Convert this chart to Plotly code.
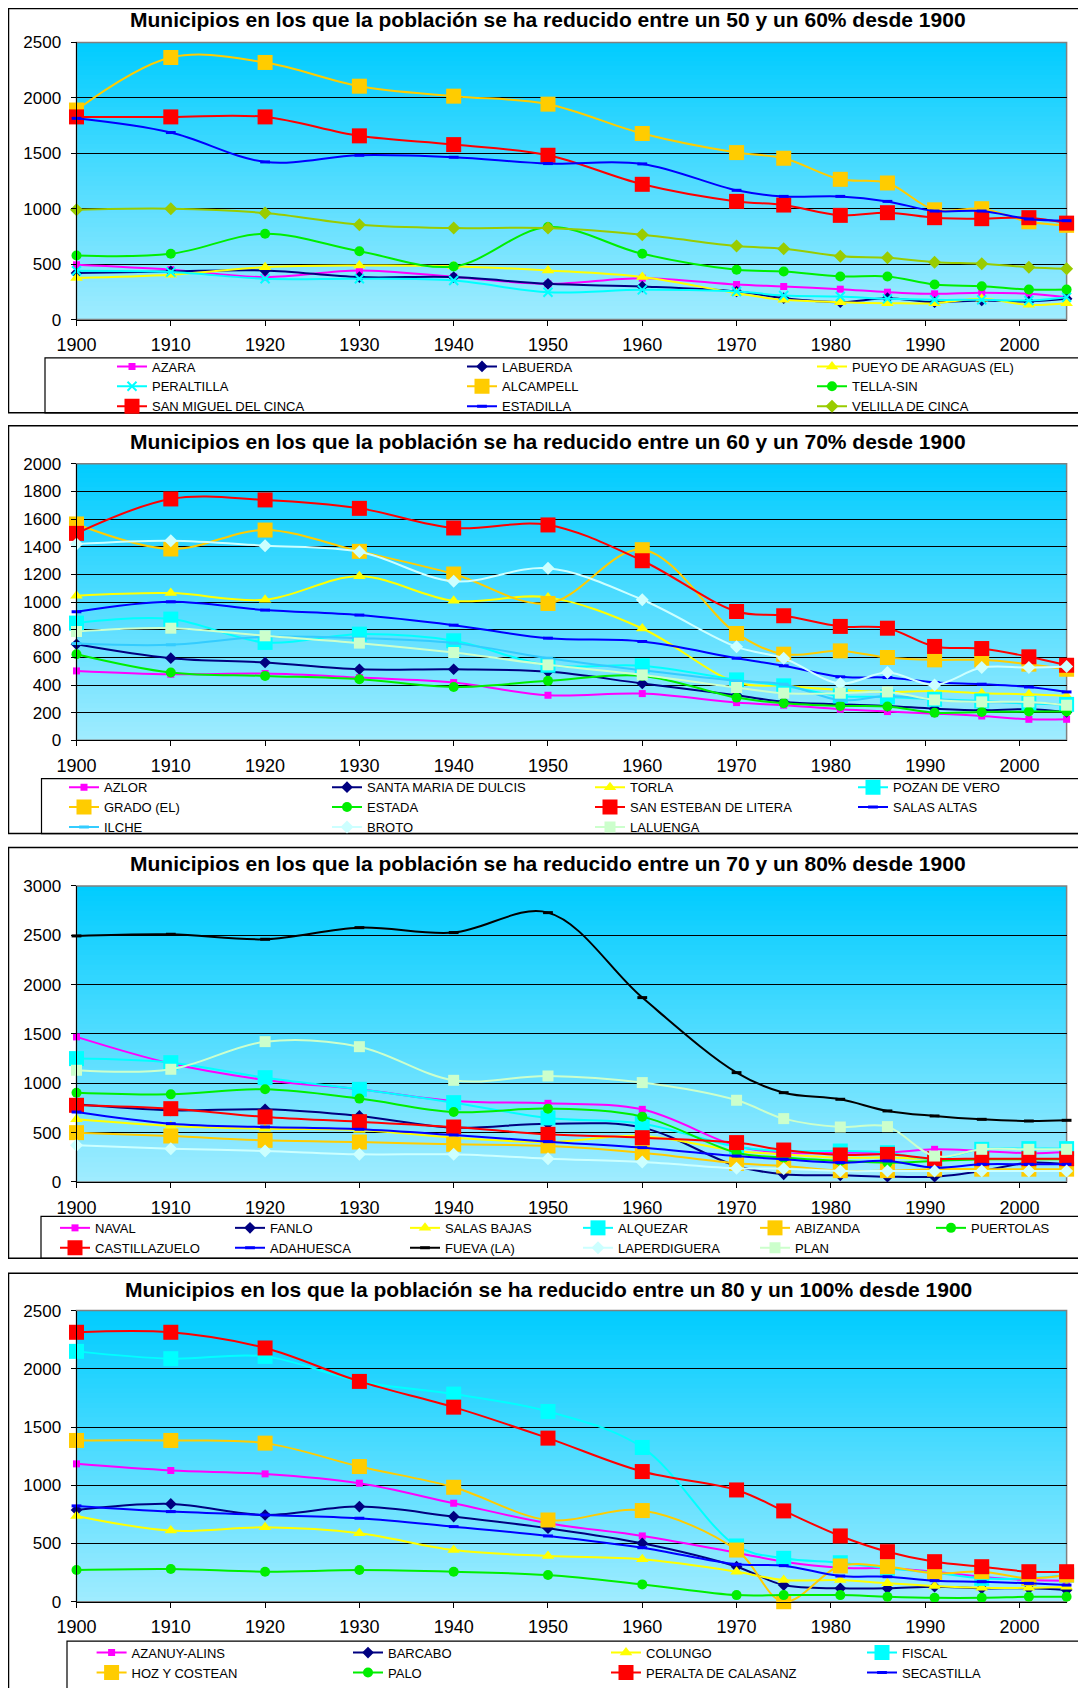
import plotly.graph_objects as go

# ---------------- DATA ----------------
YEARS = [1900, 1910, 1920, 1930, 1940, 1950, 1960, 1970, 1975, 1981, 1986, 1991, 1996, 2001, 2005]
X_TICKS = [1900, 1910, 1920, 1930, 1940, 1950, 1960, 1970, 1980, 1990, 2000]

TITLE_1 = "Municipios en los que la población se ha reducido entre un 50 y un 60% desde 1900"
TITLE_2 = "Municipios en los que la población se ha reducido entre un 60 y un 70% desde 1900"
TITLE_3 = "Municipios en los que la población se ha reducido entre un 70 y un 80% desde 1900"
TITLE_4 = "Municipios en los que la población se ha reducido entre un 80 y un 100% desde 1900"

# Panel 1
AZARA = [494, 450, 383, 443, 385, 322, 373, 316, 298, 274, 247, 232, 241, 232, 202]
LABUERDA = [419, 434, 443, 383, 383, 322, 298, 253, 193, 157, 193, 157, 172, 163, 187]
PUEYO = [376, 404, 473, 488, 482, 443, 383, 238, 178, 157, 148, 148, 187, 133, 148]
PERALTILLA = [440, 428, 368, 368, 352, 247, 268, 253, 217, 208, 187, 178, 178, 172, 202]
ALCAMPELL = [1890, 2364, 2319, 2105, 2015, 1943, 1678, 1506, 1455, 1265, 1232, 990, 1000, 882, 850]
SAN_MIGUEL = [1828, 1828, 1828, 1657, 1578, 1482, 1220, 1066, 1033, 940, 964, 919, 910, 919, 870]
ESTADILLA = [1815, 1687, 1422, 1482, 1464, 1407, 1404, 1166, 1111, 1111, 1066, 979, 979, 907, 892]
TELLA_SIN = [578, 593, 774, 617, 479, 834, 593, 449, 434, 389, 389, 316, 301, 271, 271]
VELILLA = [991, 1000, 961, 855, 825, 825, 765, 663, 639, 572, 557, 518, 503, 473, 458]

# Panel 2
AZLOR = [502, 478, 483, 454, 418, 326, 338, 273, 254, 225, 208, 193, 176, 152, 152]
SANTA_MARIA = [695, 594, 563, 514, 514, 497, 411, 326, 278, 261, 249, 229, 217, 225, 205]
TORLA = [1046, 1065, 1017, 1186, 1009, 1034, 809, 418, 394, 365, 350, 357, 341, 333, 321]
POZAN = [848, 877, 708, 768, 720, 543, 539, 437, 394, 321, 314, 297, 285, 266, 260]
GRADO = [1565, 1384, 1521, 1367, 1203, 990, 1379, 773, 623, 647, 599, 582, 582, 551, 514]
ESTADA = [623, 490, 466, 442, 386, 430, 466, 309, 268, 249, 244, 200, 205, 208, 208]
SAN_ESTEBAN = [1497, 1746, 1739, 1678, 1536, 1558, 1299, 932, 901, 824, 811, 679, 664, 604, 543]
SALAS_ALTAS = [930, 1002, 942, 906, 833, 739, 715, 594, 539, 459, 454, 418, 406, 386, 350]
ILCHE = [700, 691, 749, 739, 703, 594, 507, 430, 406, 290, 321, 297, 278, 273, 256]
BROTO = [1420, 1444, 1408, 1364, 1150, 1244, 1017, 676, 594, 411, 490, 401, 526, 526, 534]
LALUENGA = [787, 811, 756, 703, 635, 546, 473, 382, 341, 341, 350, 292, 278, 278, 254]

# Panel 3
NAVAL = [1470, 1200, 1034, 939, 821, 797, 736, 365, 297, 297, 297, 331, 314, 291, 304]
FANLO = [787, 726, 736, 669, 551, 591, 551, 162, 78, 68, 54, 54, 111, 196, 179]
SALAS_BAJAS = [635, 568, 540, 527, 449, 405, 466, 314, 280, 247, 247, 230, 230, 230, 230]
ALQUEZAR = [1250, 1209, 1057, 939, 804, 649, 591, 358, 314, 314, 297, 230, 331, 338, 338]
ABIZANDA = [500, 466, 422, 405, 382, 365, 297, 189, 162, 115, 115, 130, 130, 130, 130]
PUERTOLAS = [905, 888, 939, 845, 709, 743, 662, 297, 247, 213, 196, 213, 230, 230, 230]
CASTILLAZUELO = [777, 743, 659, 611, 557, 483, 449, 399, 324, 274, 280, 236, 236, 236, 236]
ADAHUESCA = [709, 591, 557, 534, 476, 409, 348, 263, 230, 196, 213, 145, 179, 179, 179]
FUEVA = [2493, 2510, 2459, 2577, 2527, 2729, 1868, 1108, 905, 838, 720, 669, 635, 618, 625]
LAPERDIGUERA = [372, 338, 314, 280, 280, 236, 203, 139, 135, 111, 111, 111, 111, 111, 111]
PLAN = [1132, 1142, 1422, 1371, 1030, 1074, 1007, 828, 642, 557, 561, 263, 331, 331, 331]

# Panel 4
AZANUY = [1184, 1127, 1098, 1018, 846, 674, 565, 421, 344, 292, 287, 258, 215, 186, 181]
BARCABO = [788, 840, 745, 817, 731, 631, 502, 301, 143, 115, 115, 129, 115, 115, 100]
COLUNGO = [737, 611, 639, 588, 444, 393, 364, 258, 186, 186, 158, 135, 120, 120, 129]
FISCAL = [2150, 2087, 2107, 1892, 1783, 1634, 1325, 479, 373, 335, 287, 249, 201, 201, 229]
HOZ = [1385, 1385, 1362, 1161, 983, 702, 783, 444, 0, 307, 301, 244, 258, 201, 229]
PALO = [272, 281, 258, 272, 258, 229, 149, 57, 57, 57, 43, 34, 34, 43, 43]
PERALTA = [2314, 2314, 2179, 1892, 1671, 1405, 1118, 960, 780, 565, 430, 344, 301, 258, 258]
SECASTILLA = [823, 774, 745, 717, 645, 565, 464, 321, 310, 221, 215, 181, 172, 158, 143]

PANEL1 = [("AZARA", AZARA, "mag"), ("LABUERDA", LABUERDA, "navy"),
          ("PUEYO DE ARAGUAS (EL)", PUEYO, "yel"), ("PERALTILLA", PERALTILLA, "cyanx"),
          ("ALCAMPELL", ALCAMPELL, "gold"), ("TELLA-SIN", TELLA_SIN, "green"),
          ("SAN MIGUEL DEL CINCA", SAN_MIGUEL, "red"), ("ESTADILLA", ESTADILLA, "blue"),
          ("VELILLA DE CINCA", VELILLA, "olive")]
PANEL2 = [("AZLOR", AZLOR, "mag"), ("SANTA MARIA DE DULCIS", SANTA_MARIA, "navy"),
          ("TORLA", TORLA, "yel"), ("POZAN DE VERO", POZAN, "cyansq"),
          ("GRADO (EL)", GRADO, "gold"), ("ESTADA", ESTADA, "green"),
          ("SAN ESTEBAN DE LITERA", SAN_ESTEBAN, "red"), ("SALAS ALTAS", SALAS_ALTAS, "blue"),
          ("ILCHE", ILCHE, "ilche"), ("BROTO", BROTO, "paleblue"), ("LALUENGA", LALUENGA, "palegreen")]
PANEL3 = [("NAVAL", NAVAL, "mag"), ("FANLO", FANLO, "navy"), ("SALAS BAJAS", SALAS_BAJAS, "yel"),
          ("ALQUEZAR", ALQUEZAR, "cyansq"), ("ABIZANDA", ABIZANDA, "gold"),
          ("PUERTOLAS", PUERTOLAS, "green"), ("CASTILLAZUELO", CASTILLAZUELO, "red"),
          ("ADAHUESCA", ADAHUESCA, "blue"), ("FUEVA (LA)", FUEVA, "black"),
          ("LAPERDIGUERA", LAPERDIGUERA, "paleblue"), ("PLAN", PLAN, "palegreen")]
PANEL4 = [("AZANUY-ALINS", AZANUY, "mag"), ("BARCABO", BARCABO, "navy"),
          ("COLUNGO", COLUNGO, "yel"), ("FISCAL", FISCAL, "cyansq"),
          ("HOZ Y COSTEAN", HOZ, "gold"), ("PALO", PALO, "green"),
          ("PERALTA DE CALASANZ", PERALTA, "red"), ("SECASTILLA", SECASTILLA, "blue")]

# ---------------- STYLE ----------------
STYLES = {
    "mag": dict(color="#FF00FF", symbol="square", size=7),
    "navy": dict(color="#000080", symbol="diamond", size=9),
    "yel": dict(color="#FFFF00", symbol="triangle-up", size=11),
    "cyanx": dict(color="#00FFFF", symbol="x-thin", size=9, lw=2),
    "gold": dict(color="#FFCC00", symbol="square", size=15),
    "green": dict(color="#00EE00", symbol="circle", size=10),
    "red": dict(color="#FF0000", symbol="square", size=15),
    "blue": dict(color="#0000FF", symbol="line-ew", size=7, lw=3),
    "olive": dict(color="#99CC00", symbol="diamond", size=10),
    "cyansq": dict(color="#00FFFF", symbol="square", size=15),
    "ilche": dict(color="#33CCFF", symbol="line-ew", size=7, lw=3),
    "paleblue": dict(color="#CCFFFF", symbol="diamond", size=10),
    "palegreen": dict(color="#CCFFCC", symbol="square", size=11),
    "black": dict(color="#000000", symbol="line-ew", size=7, lw=3),
}

# page geometry: the html body adds an 8px margin, so the figure is drawn
# 8px smaller and all page-pixel positions are shifted by that offset
OFF = 8
W, H = 1086 - OFF, 1688 - OFF
FONT = "Arial, Liberation Sans, sans-serif"


def fx(p):
    return (p - OFF) / W


def fy(p):
    return 1 - (p - OFF) / H


PANELS = [
    dict(title=TITLE_1, series=PANEL1, yr=2500, dt=500, top=42.5, bot=320.5, tcy=20,
         frame=(4, 414), lbox=(45, 359, 414), cols=[152, 502, 852], row0=367),
    dict(title=TITLE_2, series=PANEL2, yr=2000, dt=200, top=465.2, bot=742.5, tcy=443,
         frame=(427, 836), lbox=(41.5, 781, 836), cols=[104, 367, 630, 893], row0=789),
    dict(title=TITLE_3, series=PANEL3, yr=3000, dt=500, top=888.5, bot=1185.5, tcy=866,
         frame=(850, 1262), lbox=(41, 1220, 1262), cols=[95, 270, 445, 618, 795, 971], row0=1231),
    dict(title=TITLE_4, series=PANEL4, yr=2500, dt=500, top=1314.5, bot=1606.5, tcy=1293,
         frame=(1277, 1700), lbox=(67, 1646, 1700), cols=[131.6, 388, 646, 902], row0=1657),
]

PL, PR = 76.5, 1066.6
TOP_RGB = (0, 204, 255)
BOT_RGB = (160, 236, 255)
NSTRIP = 60

fig = go.Figure()
layout = dict(template="none", width=W, height=H, autosize=False,
              margin=dict(l=0, r=0, t=0, b=0, pad=0),
              paper_bgcolor="white", plot_bgcolor="rgb(160,236,255)", showlegend=True)
shapes = []
annotations = []
leg_n = 0

for i, p in enumerate(PANELS, start=1):
    sfx = "" if i == 1 else str(i)
    xa, ya = "xaxis" + sfx, "yaxis" + sfx
    xr, yr_ = "x" + sfx, "y" + sfx

    ncol = len(p["cols"])
    col_ids = []
    for c, tx in enumerate(p["cols"]):
        leg_n += 1
        lid = "legend" if leg_n == 1 else "legend%d" % leg_n
        col_ids.append(lid)
        layout[lid] = dict(orientation="v", x=fx(tx - 40), y=fy(p["row0"] - 14.5),
                           xanchor="left", yanchor="top", bgcolor="rgba(0,0,0,0)",
                           borderwidth=0, tracegroupgap=0,
                           font=dict(family=FONT, size=13, color="black"))

    for j, (name, vals, sk) in enumerate(p["series"]):
        st = STYLES[sk]
        marker = dict(color=st["color"], symbol=st["symbol"], size=st["size"])
        if "lw" in st:
            marker["line"] = dict(color=st["color"], width=st["lw"])
        else:
            marker["line"] = dict(width=0)
        fig.add_trace(go.Scatter(
            x=YEARS, y=vals, name=name, mode="lines+markers",
            line=dict(color=st["color"], width=2, shape="spline", smoothing=1.0),
            marker=marker, cliponaxis=False, xaxis=xr, yaxis=yr_,
            legend=col_ids[j % ncol]))

    layout[xa] = dict(domain=[fx(PL), fx(PR)], range=[1900, 2005], anchor=yr_,
                      automargin=False, tickmode="array", tickvals=X_TICKS,
                      ticks="outside", ticklen=5, tickcolor="black",
                      showgrid=False, zeroline=False, showline=True, linecolor="black",
                      linewidth=1, ticklabelstandoff=4,
                      tickfont=dict(family=FONT, size=18, color="black"), fixedrange=True)
    layout[ya] = dict(domain=[fy(p["bot"]), fy(p["top"])], range=[0, p["yr"]],
                      anchor=xr, automargin=False, tickmode="linear", dtick=p["dt"], tick0=0,
                      ticks="outside", ticklen=5, tickcolor="black",
                      showgrid=True, gridcolor="black", gridwidth=1,
                      zeroline=False, showline=True, linecolor="black", linewidth=1,
                      ticklabelstandoff=6,
                      tickfont=dict(family=FONT, size=17, color="black"), fixedrange=True)

    # gradient background of plot area
    xd, yd = xr + " domain", yr_ + " domain"
    for k in range(NSTRIP):
        t = (k + 0.5) / NSTRIP  # 0 bottom .. 1 top
        c = tuple(round(BOT_RGB[q] + (TOP_RGB[q] - BOT_RGB[q]) * t) for q in range(3))
        shapes.append(dict(type="rect", xref=xd, yref=yd, x0=0, x1=1,
                           y0=k / NSTRIP, y1=min(1, (k + 1) / NSTRIP + 0.003),
                           fillcolor="rgb(%d,%d,%d)" % c, line=dict(width=0), layer="below"))
    shapes.append(dict(type="rect", xref=xd, yref=yd, x0=0, x1=1, y0=0, y1=1,
                       line=dict(color="#808080", width=1.5), layer="below"))

    # chart frame and legend box
    f0, f1 = p["frame"]
    shapes.append(dict(type="rect", xref="paper", yref="paper", x0=fx(8.5), x1=fx(1095),
                       y0=fy(f1), y1=fy(max(f0, 8.5)), line=dict(color="black", width=1.5)))
    lx, l0, l1 = p["lbox"]
    shapes.append(dict(type="rect", xref="paper", yref="paper", x0=fx(lx), x1=fx(1095),
                       y0=fy(l1), y1=fy(l0), line=dict(color="black", width=1.2)))

    annotations.append(dict(text="<b>%s</b>" % p["title"], xref="paper", yref="paper",
                            x=fx(548), y=fy(p["tcy"]), xanchor="center", yanchor="middle",
                            showarrow=False, font=dict(family=FONT, size=21, color="black")))

layout["shapes"] = shapes
layout["annotations"] = annotations
fig.update_layout(**layout)
fig.write_html("out.html")
